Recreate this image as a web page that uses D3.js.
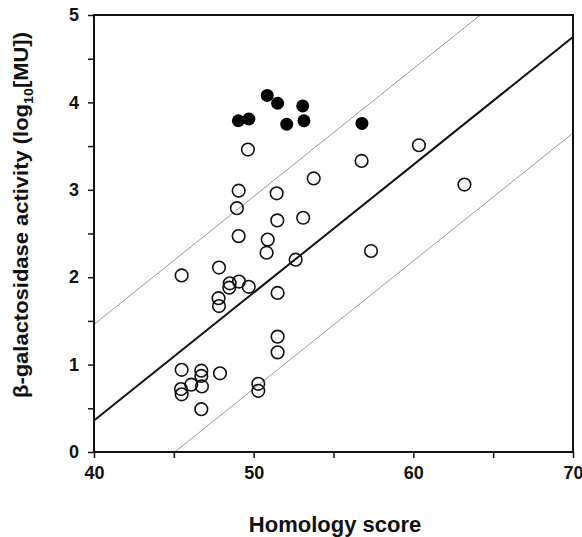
<!DOCTYPE html>
<html>
<head>
<meta charset="utf-8">
<script src="https://cdn.jsdelivr.net/npm/d3@7.9.0/dist/d3.min.js"></script>
<style>
  body { margin: 0; background: #fff; }
  text { font-family: "Liberation Sans", Arial, sans-serif; font-weight: bold; fill: #111; }
</style>
</head>
<body>
<svg id="chart" width="582" height="537"></svg>
<script>
// open circles: homology score vs log10 activity
const openX = [49.64, 56.76, 53.76, 49.06, 51.44, 48.95, 51.48, 53.1, 49.06, 50.88, 50.81, 57.35, 52.63, 47.83,
  60.35, 63.2, 45.49, 48.5, 48.47, 49.08, 49.69, 51.5, 47.8, 47.83, 51.5, 51.5,
  45.49, 46.72, 46.72, 47.89, 45.45, 45.49, 46.09, 46.76, 50.29, 50.29, 46.72];
const openY = [3.46, 3.33, 3.13, 2.99, 2.96, 2.79, 2.65, 2.68, 2.47, 2.43, 2.28, 2.30, 2.20, 2.11,
  3.51, 3.06, 2.02, 1.93, 1.88, 1.95, 1.89, 1.82, 1.76, 1.67, 1.32, 1.14,
  0.94, 0.93, 0.87, 0.90, 0.72, 0.66, 0.77, 0.75, 0.78, 0.70, 0.49];
// filled circles
const filledX = [50.85, 51.5, 53.07, 49.04, 49.7, 52.07, 53.15, 56.78];
const filledY = [4.08, 3.99, 3.96, 3.79, 3.81, 3.75, 3.79, 3.76];

// regression line and its bands
const fitIntercept = 0.36;   // value at x = 40
const fitSlope = 0.1463;
const bandOffset = 1.1;

const xTicks = [40, 50, 60, 70];
const xMinor = [45, 55, 65];
const yTicks = [0, 1, 2, 3, 4, 5];
const yMinor = [0.5, 1.5, 2.5, 3.5, 4.5];

const margin = {left: 94, top: 15, right: 9, bottom: 85};
const width = 582, height = 537;
const svg = d3.select('#chart');

const x = d3.scaleLinear().domain([40, 70]).range([margin.left, width - margin.right]);
const y = d3.scaleLinear().domain([0, 5]).range([height - margin.bottom, margin.top]);

svg.append('defs').append('clipPath').attr('id', 'clip')
  .append('rect')
  .attr('x', x(40)).attr('y', y(5))
  .attr('width', x(70) - x(40)).attr('height', y(0) - y(5));

// lines
const fit = (v, off) => fitIntercept + off + fitSlope * (v - 40);
const lineG = svg.append('g').attr('clip-path', 'url(#clip)');
[[-bandOffset, '#999', 1], [bandOffset, '#999', 1], [0, '#111', 2]].forEach(([off, col, w]) => {
  lineG.append('line')
    .attr('x1', x(38)).attr('y1', y(fit(38, off)))
    .attr('x2', x(72)).attr('y2', y(fit(72, off)))
    .attr('stroke', col).attr('stroke-width', w);
});

// frame
svg.append('rect')
  .attr('x', x(40)).attr('y', y(5))
  .attr('width', x(70) - x(40)).attr('height', y(0) - y(5))
  .attr('fill', 'none').attr('stroke', '#111').attr('stroke-width', 2);

// axes
svg.append('g').attr('transform', `translate(0,${y(0)})`)
  .call(d3.axisBottom(x).tickValues(xTicks).tickSize(6).tickPadding(8).tickFormat(d3.format('d')));
svg.append('g').attr('transform', `translate(0,${y(0)})`)
  .call(d3.axisBottom(x).tickValues(xMinor).tickSize(6).tickFormat(''));
svg.append('g').attr('transform', `translate(${x(40)},0)`)
  .call(d3.axisLeft(y).tickValues(yTicks).tickSize(6).tickPadding(9).tickFormat(d3.format('d')));
svg.append('g').attr('transform', `translate(${x(40)},0)`)
  .call(d3.axisLeft(y).tickValues(yMinor).tickSize(6).tickFormat(''));
svg.selectAll('.domain').remove();
svg.selectAll('.tick line').attr('stroke', '#111').attr('stroke-width', 1.5);
svg.selectAll('.tick text').style('font-size', '18px').style('font-weight', 'bold')
  .style('font-family', '"Liberation Sans", Arial, sans-serif').attr('fill', '#111');

// points
svg.append('g').selectAll('circle').data(openX.map((d, i) => [d, openY[i]]))
  .join('circle')
  .attr('cx', d => x(d[0])).attr('cy', d => y(d[1])).attr('r', 6.3)
  .attr('fill', 'none').attr('stroke', '#111').attr('stroke-width', 1.6);
svg.append('g').selectAll('circle').data(filledX.map((d, i) => [d, filledY[i]]))
  .join('circle')
  .attr('cx', d => x(d[0])).attr('cy', d => y(d[1])).attr('r', 6.5)
  .attr('fill', '#000');

// titles
svg.append('text')
  .attr('x', 335).attr('y', 532)
  .attr('text-anchor', 'middle').style('font-size', '22px')
  .text('Homology score');

const yt = svg.append('text')
  .attr('transform', 'translate(28,215) rotate(-90)')
  .attr('text-anchor', 'middle').style('font-size', '20px')
  .attr('textLength', 366).attr('lengthAdjust', 'spacingAndGlyphs');
yt.append('tspan').text('β-galactosidase activity (log');
yt.append('tspan').attr('dy', 5).style('font-size', '13px').text('10');
yt.append('tspan').attr('dy', -5).text('[MU])');
</script>
</body>
</html>
